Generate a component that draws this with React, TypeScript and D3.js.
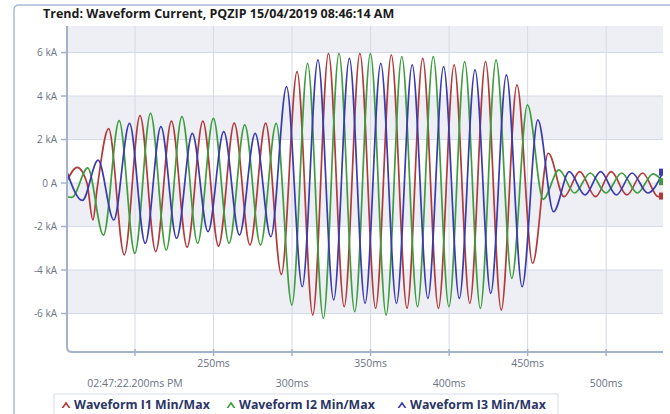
import React from "react";
import * as d3 from "d3";

// ---- data (time in ms, current in kA) ----
const i1Points: [number, number][] = [
  [156.7, 0.1], [163.2, 0.72], [169.4, 0.0], [173.2, -1.7], [175.8, -0.3], [183.2, 2.5], [193.2, -3.3], [203.2, 3.1],
  [213.2, -3.15], [223.2, 2.85], [233.2, -2.95], [243.2, 2.85], [253.2, -2.9], [263.2, 2.75],
  [273.2, -2.85], [283.2, 2.75], [293.2, -4.2], [303.2, 5.12], [313.2, -6.07], [323.2, 5.96],
  [333.2, -5.69], [343.2, 5.96], [353.2, -5.76], [363.2, 5.89], [373.2, -5.76], [383.2, 5.73],
  [393.2, -5.76], [403.2, 5.43], [413.2, -5.53], [423.2, 5.58], [433.2, -5.84], [443.2, 4.51],
  [453.2, -3.69], [463.2, 1.37], [473.2, -0.63], [483.2, 0.52], [493.2, -0.63], [503.2, 0.52],
  [513.2, -0.55], [523.2, 0.46], [533.2, -0.63], [536.2, -0.6],
];
const i2Points: [number, number][] = [
  [156.7, -0.63], [159.9, -0.66], [169.9, 0.7], [179.9, -2.4], [189.9, 2.87], [199.9, -3.23],
  [209.9, 3.2], [219.9, -3.08], [229.9, 3.05], [239.9, -2.77], [249.9, 2.97], [259.9, -2.77],
  [269.9, 2.67], [279.9, -2.85], [289.9, 2.74], [299.9, -5.61], [309.9, 5.5], [319.9, -6.22],
  [329.9, 5.96], [339.9, -5.92], [349.9, 5.96], [359.9, -6.07], [369.9, 5.81], [379.9, -5.69],
  [389.9, 5.81], [399.9, -5.69], [409.9, 5.58], [419.9, -5.76], [429.9, 5.66], [439.9, -4.38],
  [449.9, 3.59], [459.9, -0.75], [469.9, 0.6], [479.9, -0.46], [489.9, 0.46], [499.9, -0.46],
  [509.9, 0.46], [519.9, -0.46], [529.9, 0.42], [536.2, 0.06],
];
const i3Points: [number, number][] = [
  [156.7, 0.5], [166.5, -0.8], [176.5, 1.05], [186.5, -1.7], [196.5, 2.74], [206.5, -2.77],
  [216.5, 2.59], [226.5, -2.54], [236.5, 2.28], [246.5, -2.24], [256.5, 2.36], [266.5, -2.39],
  [276.5, 2.28], [286.5, -2.47], [296.5, 4.43], [306.5, -4.77], [316.5, 5.66], [326.5, -5.38],
  [336.5, 5.73], [346.5, -5.53], [356.5, 5.5], [366.5, -5.53], [376.5, 5.43], [386.5, -5.3],
  [396.5, 5.35], [406.5, -5.3], [416.5, 5.2], [426.5, -5.07], [436.5, 4.97], [446.5, -4.77],
  [456.5, 2.9], [466.5, -1.32], [476.5, 0.52], [486.5, -0.55], [496.5, 0.52], [506.5, -0.55],
  [516.5, 0.46], [526.5, -0.46], [536.2, 0.5],
];

const seriesNames = ["Waveform I1 Min/Max", "Waveform I2 Min/Max", "Waveform I3 Min/Max"];
const seriesColors = ["#b23a3a", "#3e9e3e", "#3b3bb0"];

const xTicks = [200, 250, 300, 350, 400, 450, 500];
const xTickLabels = ["02:47:22.200ms PM", "250ms", "300ms", "350ms", "400ms", "450ms", "500ms"];
const yTicks = [6, 4, 2, 0, -2, -4, -6];
const yTickLabels = ["6 kA", "4 kA", "2 kA", "0 A", "-2 kA", "-4 kA", "-6 kA"];

const title = "Trend: Waveform Current, PQZIP 15/04/2019 08:46:14 AM";

const W = 670, H = 414;
const L = 67, R = 663, T = 26, B = 352;
const FONT = "'Open Sans', 'Noto Sans', sans-serif";

export default function App() {
  const x = d3.scaleLinear().domain([156.7, 536.2]).range([L, R]);
  const y = d3.scaleLinear().domain([-7.77, 7.22]).range([B, T]);
  const line = d3.line<[number, number]>()
    .x((d) => x(d[0]))
    .y((d) => y(d[1]))
    .curve(d3.curveMonotoneX);

  const bounds = [y.domain()[0], -6, -4, -2, 0, 2, 4, 6, y.domain()[1]];
  const bands = bounds.slice(0, -1).map((lo, i) => ({ lo, hi: bounds[i + 1], gray: i % 2 === 1 }));
  const all = [i1Points, i2Points, i3Points];

  const legendX = [66, 231, 402];

  return (
    <svg width={W} height={H} style={{ position: "absolute", left: 0, top: 0, background: "#fff" }}>
      <defs>
        <clipPath id="plotclip">
          <rect x={L} y={T} width={R - L} height={B - T} />
        </clipPath>
      </defs>
      {/* outer frame */}
      <path d={`M14,${H} V10 Q14,5 19,5 H${W}`} fill="none" stroke="#a9bad8" strokeWidth={1.5} />
      <text x={43} y={18} fontFamily={FONT} fontWeight={700} fontSize={12.5} fill="#1c1c1c">{title}</text>

      {/* plot background bands */}
      {bands.map((b, i) => (
        <rect key={i} x={L} width={R - L} y={y(b.hi)} height={y(b.lo) - y(b.hi)} fill={b.gray ? "#edeff5" : "#ffffff"} />
      ))}
      {/* gridlines */}
      {yTicks.map((t) => (
        <line key={"gy" + t} x1={L} x2={R} y1={y(t)} y2={y(t)} stroke="#d4dae6" strokeWidth={1} />
      ))}
      {xTicks.map((t) => (
        <line key={"gx" + t} x1={x(t)} x2={x(t)} y1={T} y2={B} stroke="#d4dae6" strokeWidth={1} />
      ))}

      {/* series */}
      <g clipPath="url(#plotclip)">
        {all.map((pts, i) => (
          <path key={i} d={line(pts) || ""} fill="none" stroke={seriesColors[i]} strokeWidth={1.7} strokeLinejoin="round" />
        ))}
      </g>
      {/* end markers */}
      {all.map((pts, i) => {
        const last = pts[pts.length - 1];
        return <rect key={"m" + i} x={R - 4} y={y(last[1]) - 3.5} width={4} height={7} fill={seriesColors[i]} />;
      })}

      {/* axes */}
      <path d={`M${L},${T} V${B - 5} Q${L},${B} ${L + 5},${B} H${R}`} fill="none" stroke="#a4b3cc" strokeWidth={2} />
      {yTicks.map((t, i) => (
        <g key={"yt" + t}>
          <line x1={L - 6} x2={L} y1={y(t)} y2={y(t)} stroke="#a4b3cc" strokeWidth={1.5} />
          <text x={L - 10} y={y(t)} dy="0.35em" textAnchor="end" fontFamily={FONT} fontSize={10} fill="#6b7386">{yTickLabels[i]}</text>
        </g>
      ))}
      {xTicks.map((t, i) => (
        <g key={"xt" + t}>
          <line x1={x(t)} x2={x(t)} y1={B - 3} y2={B + 4} stroke="#a4b3cc" strokeWidth={1.5} />
          <text x={x(t)} y={i % 2 === 0 ? 383 : 363} dy="0.35em" textAnchor="middle" fontFamily={FONT} fontSize={10.5} fill="#6b7386">{xTickLabels[i]}</text>
        </g>
      ))}

      {/* legend */}
      <rect x={54} y={394} width={504} height={26} fill="#fff" stroke="#d8dde8" strokeWidth={1} />
      {seriesNames.map((n, i) => (
        <g key={n} transform={`translate(${legendX[i]},405)`}>
          <path d="M-4.5,3 L0,-3.5 L4.5,3 L2.6,3 L0,-0.6 L-2.6,3 Z" fill={seriesColors[i]} />
          <text x={8} y={0} dy="0.35em" fontFamily={FONT} fontWeight={700} fontSize={12.3} fill="#2a3566">{n}</text>
        </g>
      ))}
    </svg>
  );
}
